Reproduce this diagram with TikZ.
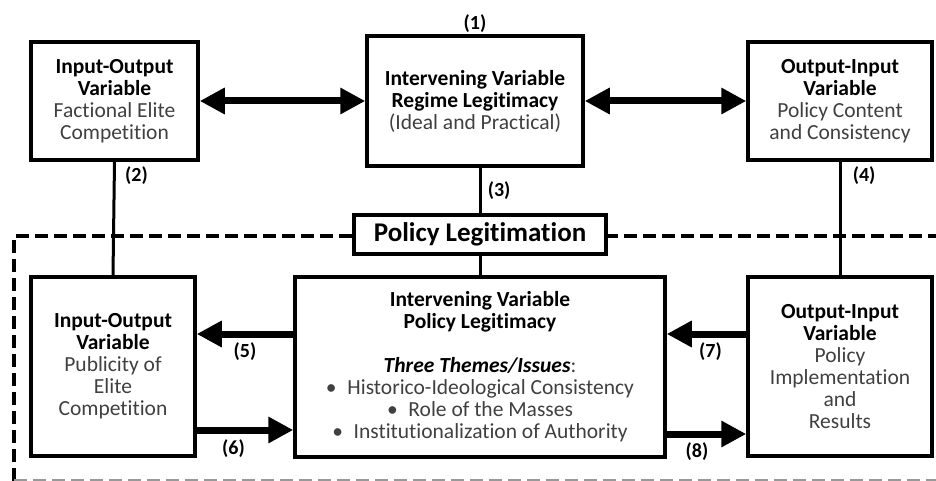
\documentclass[tikz,border=0pt]{standalone}
\usepackage{fontspec}
\setmainfont{Carlito}[Ligatures=NoCommon]
\usepackage{xcolor}
\usetikzlibrary{arrows.meta,positioning}
\definecolor{otext}{HTML}{404040}
\newcommand{\hd}[1]{\textbf{\textcolor{black}{#1}}}

\begin{document}
\begin{tikzpicture}[
  x=1pt,y=-1pt,
  font=\fontsize{21.5}{22}\selectfont,
  bx/.style={draw=black,line width=3.5pt,fill=white,text=otext,align=center,inner sep=2pt},
  ln/.style={draw=black,line width=3pt},
  a/.style={-{Triangle[length=25pt,width=25pt]},line width=7pt},
  aa/.style={{Triangle[length=25pt,width=25pt]}-{Triangle[length=25pt,width=25pt]},line width=7pt},
  lbl/.style={font=\fontsize{20}{22}\selectfont\bfseries}
]
\useasboundingbox (0,0) rectangle (936,481);

% frame of the policy legitimation stage
\draw[line width=3.5pt,dash pattern=on 13pt off 6pt] (14,481) -- (14,236) -- (940,236);
\draw[line width=2pt,draw=black!40,dash pattern=on 13pt off 6pt] (14,480) -- (940,480);

% top row
\node[bx,minimum width=167pt,minimum height=118pt] (ioelite) at (114.5,101)
  {\hd{Input-Output}\\\hd{Variable}\\Factional Elite\\Competition};
\node[bx,minimum width=216pt,minimum height=130pt] (regime) at (475,101)
  {\hd{Intervening Variable}\\\hd{Regime Legitimacy}\\(Ideal and Practical)};
\node[bx,minimum width=184pt,minimum height=118pt] (oicontent) at (840,101)
  {\hd{Output-Input}\\\hd{Variable}\\Policy Content\\and Consistency};
\node[lbl,above=-2pt of regime.north] (n1) {(1)};

% stage label
\node[bx,text=black,font=\fontsize{27}{30}\selectfont\bfseries,
  minimum width=252pt,minimum height=39pt] (stage) at (480,234.5) {Policy Legitimation};

% bottom row
\node[bx,minimum width=164pt,minimum height=179pt] (iopublic) at (113,366.5)
  {\hd{Input-Output}\\\hd{Variable}\\Publicity of\\Elite\\Competition};
\node[bx,minimum width=370pt,minimum height=180pt] (policy) at (480,367)
  {\hd{Intervening Variable}\\\hd{Policy Legitimacy}\\[22pt]
   \textbf{\textit{\textcolor{black}{Three Themes/Issues}}}:\\
   \textbullet\enspace Historico-Ideological Consistency\\
   \textbullet\enspace Role of the Masses\\
   \textbullet\enspace Institutionalization of Authority};
\node[bx,minimum width=184pt,minimum height=179pt] (oiresults) at (840,366.5)
  {\hd{Output-Input}\\\hd{Variable}\\Policy\\Implementation\\and\\Results};

% horizontal links
\draw[aa] (ioelite) -- (regime);
\draw[aa] (regime) -- (oicontent);
\draw[a] (policy.west |- 0,334) -- (iopublic.east |- 0,334)
  node[lbl,pos=0.5,below=2pt] (n5) {(5)};
\draw[a] (iopublic.east |- 0,430) -- (policy.west |- 0,430)
  node[lbl,pos=0.38,below=3pt] (n6) {(6)};
\draw[a] (oiresults.west |- 0,334) -- (policy.east |- 0,334)
  node[lbl,pos=0.45,below=2pt] (n7) {(7)};
\draw[a] (policy.east |- 0,434) -- (oiresults.west |- 0,434)
  node[lbl,pos=0.38,below=2pt] (n8) {(8)};

% vertical links
\draw[ln] (ioelite.south) -- (iopublic.north)
  node[lbl,pos=0.12,right=6pt] (n2) {(2)};
\draw[ln] (regime.south -| stage.north) -- (stage.north)
  node[lbl,midway,right=3pt] (n3) {(3)};
\draw[ln] (stage.south) -- (policy.north -| stage.south);
\draw[ln] (oicontent.south) -- (oiresults.north)
  node[lbl,pos=0.12,right=8pt] (n4) {(4)};
\end{tikzpicture}
\end{document}
